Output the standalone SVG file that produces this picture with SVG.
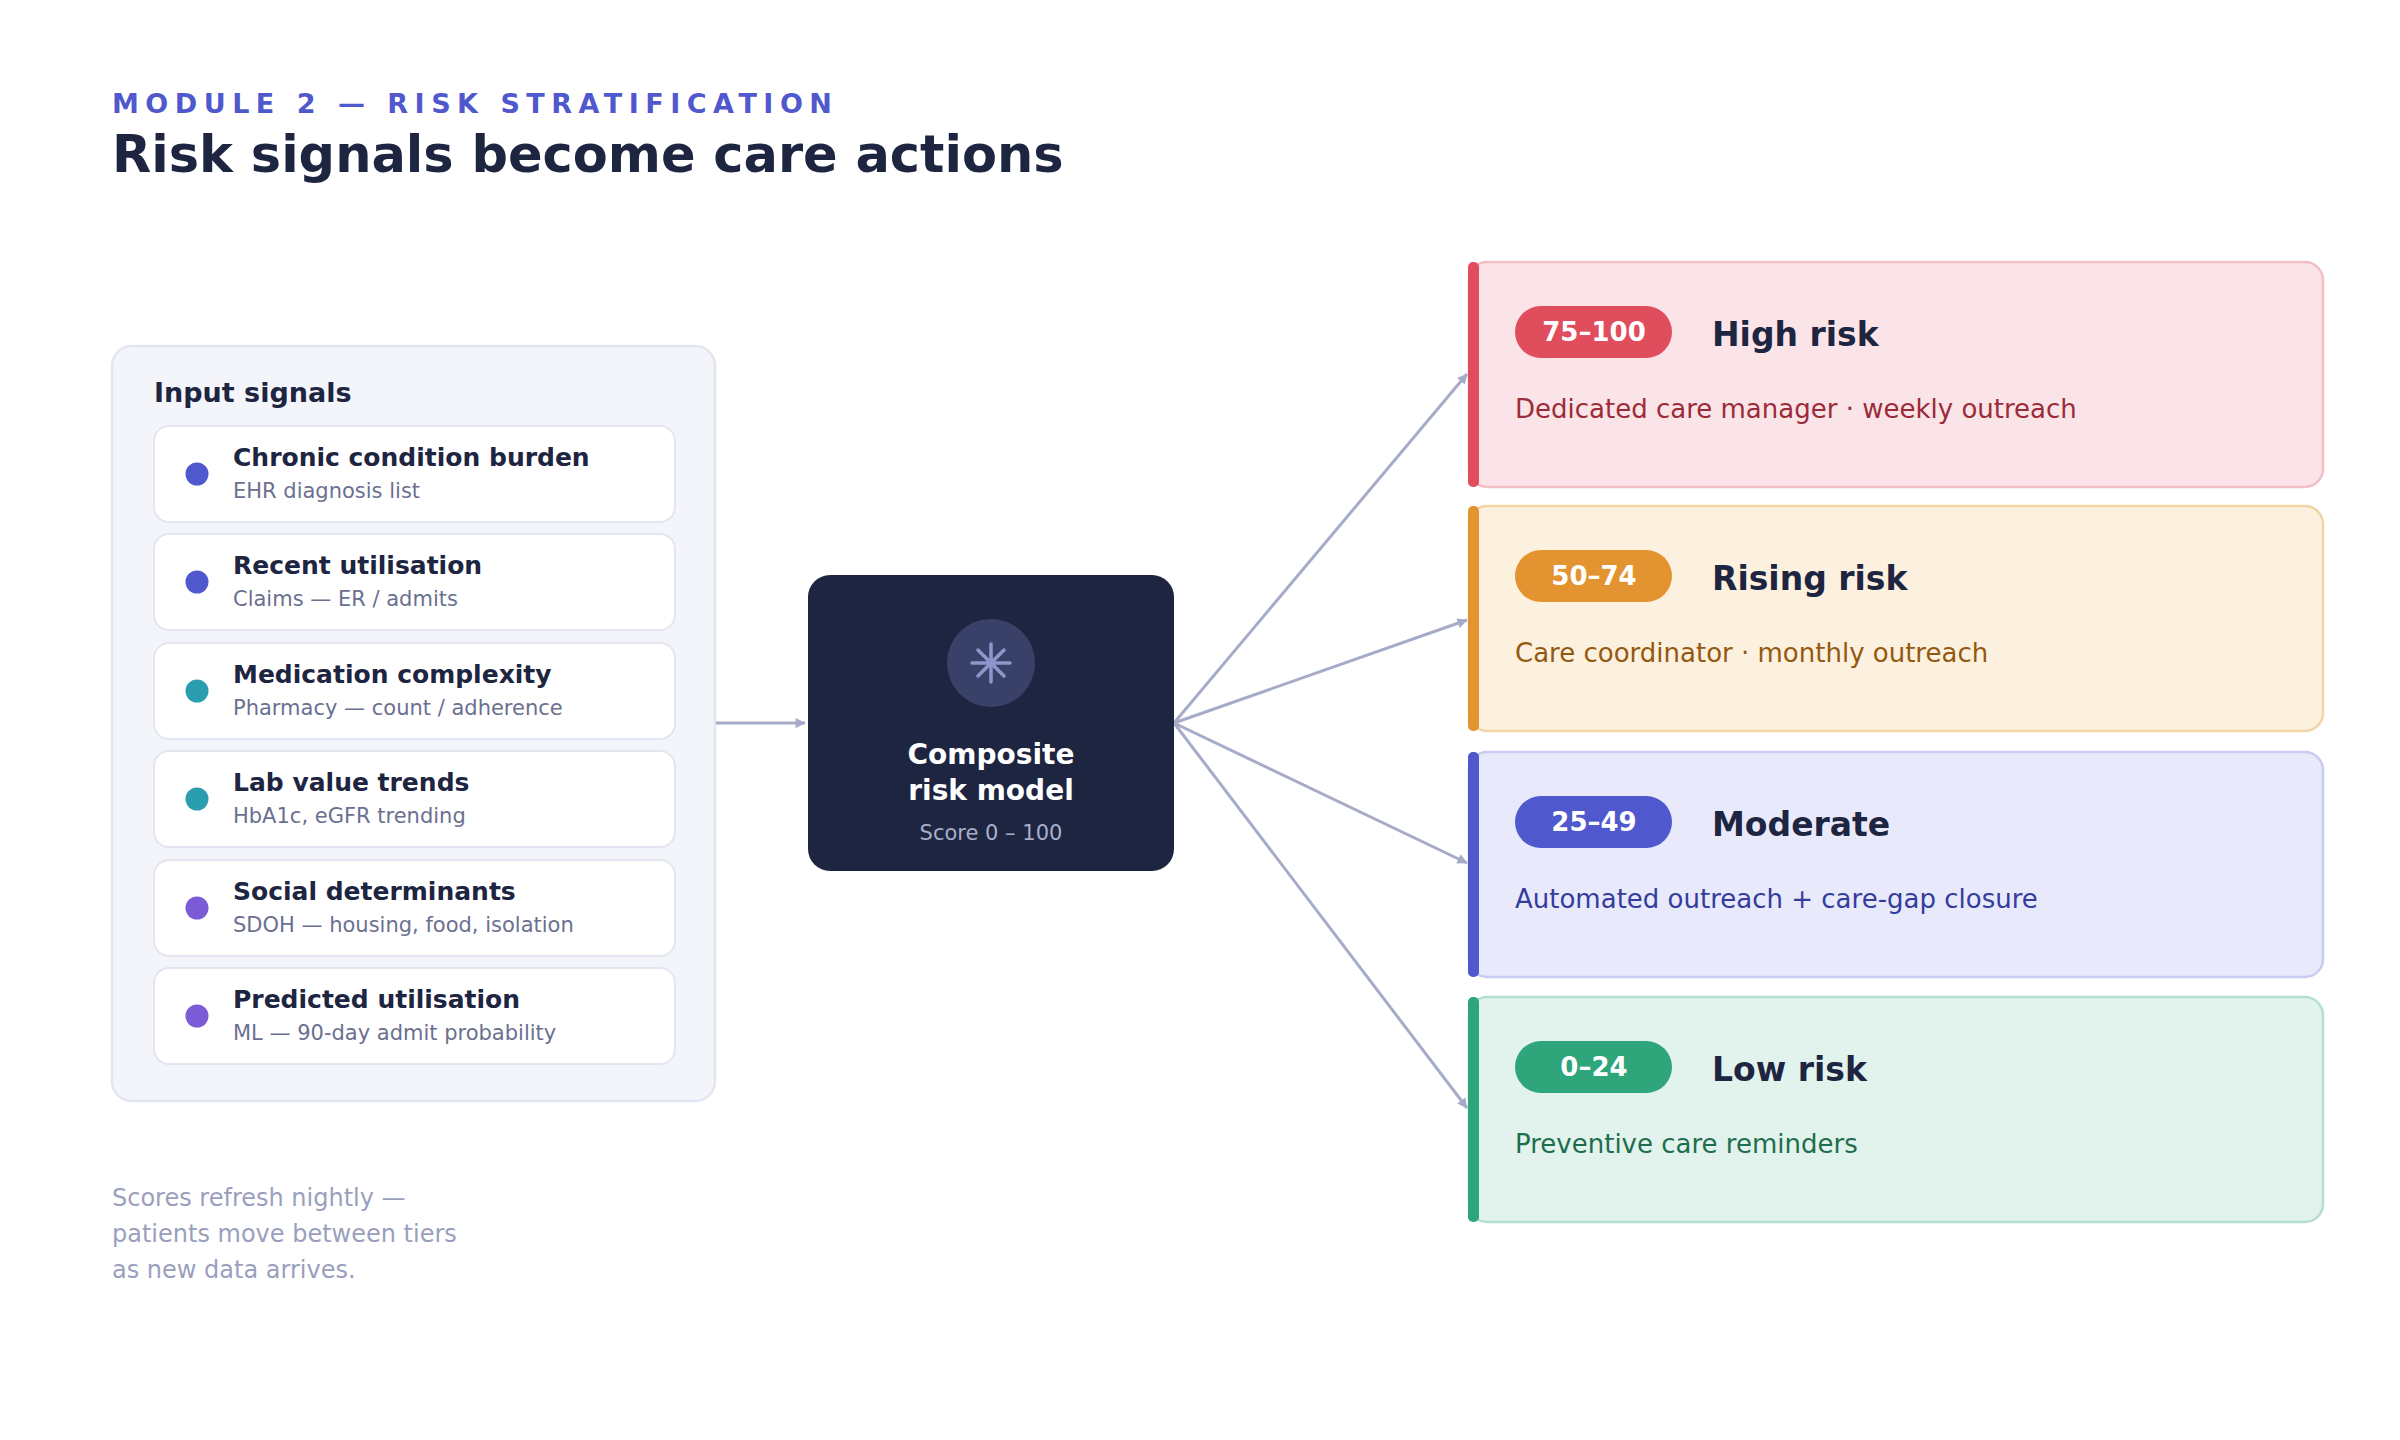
<svg xmlns="http://www.w3.org/2000/svg" width="2400" height="1440" viewBox="0 0 2400 1440">
<defs>
<marker id="ah" viewBox="0 0 10 10" refX="9" refY="5" markerWidth="6" markerHeight="6" orient="auto" markerUnits="userSpaceOnUse" overflow="visible"><path d="M0,0 L10,5 L0,10 z" fill="#A6ABC8" transform="scale(1.7) translate(-4,-2)"/></marker>
<style>
text{font-family:"DejaVu Sans","Noto Sans",sans-serif}
.card{fill:#fff;stroke:#E3E5F0;stroke-width:2}
.ct{font-size:25px;font-weight:bold;fill:#1D2541}
.cs{font-size:21px;fill:#6B7090}
.conn{stroke:#A6ABC8;stroke-width:3;fill:none}
.pill{font-size:26px;font-weight:bold;fill:#fff;text-anchor:middle}
.tt{font-size:33px;font-weight:bold;fill:#1D2541}
.td{font-size:26px}
</style>
</defs>
<rect width="2400" height="1440" fill="#fff"/>
<text x="112" y="113" font-size="27" font-weight="bold" fill="#4F58CC" letter-spacing="6.5">MODULE 2 — RISK STRATIFICATION</text>
<text x="112" y="172" font-size="51" font-weight="bold" fill="#1D2541">Risk signals become care actions</text>

<g id="inputs">
<rect x="112" y="346" width="603" height="755" rx="20" fill="#F4F5FA" stroke="#E3E5F0" stroke-width="2.5"/>
<text x="154" y="402" font-size="27" font-weight="bold" fill="#1D2541">Input signals</text>
</g>
<g id="s1"><rect class="card" x="154" y="426" width="521" height="96" rx="15"/><circle cx="197" cy="474" r="11.5" fill="#4F58CC"/><text class="ct" x="233" y="466">Chronic condition burden</text><text class="cs" x="233" y="498">EHR diagnosis list</text></g>
<g id="s2"><rect class="card" x="154" y="534" width="521" height="96" rx="15"/><circle cx="197" cy="582" r="11.5" fill="#4F58CC"/><text class="ct" x="233" y="574">Recent utilisation</text><text class="cs" x="233" y="606">Claims — ER / admits</text></g>
<g id="s3"><rect class="card" x="154" y="643" width="521" height="96" rx="15"/><circle cx="197" cy="691" r="11.5" fill="#2A9DAE"/><text class="ct" x="233" y="683">Medication complexity</text><text class="cs" x="233" y="715">Pharmacy — count / adherence</text></g>
<g id="s4"><rect class="card" x="154" y="751" width="521" height="96" rx="15"/><circle cx="197" cy="799" r="11.5" fill="#2A9DAE"/><text class="ct" x="233" y="791">Lab value trends</text><text class="cs" x="233" y="823">HbA1c, eGFR trending</text></g>
<g id="s5"><rect class="card" x="154" y="860" width="521" height="96" rx="15"/><circle cx="197" cy="908" r="11.5" fill="#7B5CD6"/><text class="ct" x="233" y="900">Social determinants</text><text class="cs" x="233" y="932">SDOH — housing, food, isolation</text></g>
<g id="s6"><rect class="card" x="154" y="968" width="521" height="96" rx="15"/><circle cx="197" cy="1016" r="11.5" fill="#7B5CD6"/><text class="ct" x="233" y="1008">Predicted utilisation</text><text class="cs" x="233" y="1040">ML — 90-day admit probability</text></g>

<g id="connectors">
<line class="conn" x1="716" y1="723" x2="805" y2="723" marker-end="url(#ah)"/>
<line class="conn" x1="1174" y1="723" x2="1467" y2="374" marker-end="url(#ah)"/>
<line class="conn" x1="1174" y1="723" x2="1467" y2="620" marker-end="url(#ah)"/>
<line class="conn" x1="1174" y1="723" x2="1467" y2="863" marker-end="url(#ah)"/>
<line class="conn" x1="1174" y1="723" x2="1467" y2="1108" marker-end="url(#ah)"/>
</g>

<g id="model">
<rect x="808" y="575" width="366" height="296" rx="22" fill="#1D2541"/>
<circle cx="991" cy="663" r="44" fill="#3A4169"/>
<g stroke="#8F96CC" stroke-width="3.5" stroke-linecap="round">
<line x1="991" y1="644" x2="991" y2="682"/><line x1="972" y1="663" x2="1010" y2="663"/>
<line x1="978" y1="650" x2="1004" y2="676"/><line x1="1004" y1="650" x2="978" y2="676"/>
</g>
<text x="991" y="764" font-size="28" font-weight="bold" fill="#fff" text-anchor="middle">Composite</text>
<text x="991" y="800" font-size="28" font-weight="bold" fill="#fff" text-anchor="middle">risk model</text>
<text x="991" y="840" font-size="21" fill="#A9AECB" text-anchor="middle">Score 0 – 100</text>
</g>

<g id="high">
<rect x="1469" y="262" width="854" height="225" rx="18" fill="#FBE4E7" stroke="#F3BFC6" stroke-width="2.5"/>
<rect x="1468" y="262" width="11" height="225" rx="5" fill="#E04E5E"/>
<rect x="1515" y="306" width="157" height="52" rx="26" fill="#E04E5E"/>
<text class="pill" x="1594" y="341">75–100</text>
<text class="tt" x="1712" y="346">High risk</text>
<text class="td" x="1515" y="418" fill="#9B2B3A">Dedicated care manager · weekly outreach</text>
</g>
<g id="rising">
<rect x="1469" y="506" width="854" height="225" rx="18" fill="#FCF0DF" stroke="#F2D5A6" stroke-width="2.5"/>
<rect x="1468" y="506" width="11" height="225" rx="5" fill="#E39430"/>
<rect x="1515" y="550" width="157" height="52" rx="26" fill="#E39430"/>
<text class="pill" x="1594" y="585">50–74</text>
<text class="tt" x="1712" y="590">Rising risk</text>
<text class="td" x="1515" y="662" fill="#94590F">Care coordinator · monthly outreach</text>
</g>
<g id="moderate">
<rect x="1469" y="752" width="854" height="225" rx="18" fill="#E8E9FA" stroke="#C9CCF2" stroke-width="2.5"/>
<rect x="1468" y="752" width="11" height="225" rx="5" fill="#4F58CC"/>
<rect x="1515" y="796" width="157" height="52" rx="26" fill="#4F58CC"/>
<text class="pill" x="1594" y="831">25–49</text>
<text class="tt" x="1712" y="836">Moderate</text>
<text class="td" x="1515" y="908" fill="#343C9C">Automated outreach + care-gap closure</text>
</g>
<g id="low">
<rect x="1469" y="997" width="854" height="225" rx="18" fill="#E1F3EC" stroke="#B5E0CF" stroke-width="2.5"/>
<rect x="1468" y="997" width="11" height="225" rx="5" fill="#2EA57A"/>
<rect x="1515" y="1041" width="157" height="52" rx="26" fill="#2EA57A"/>
<text class="pill" x="1594" y="1076">0–24</text>
<text class="tt" x="1712" y="1081">Low risk</text>
<text class="td" x="1515" y="1153" fill="#1E6E4E">Preventive care reminders</text>
</g>

<g font-size="24" fill="#9A9FBE">
<text x="112" y="1206">Scores refresh nightly —</text>
<text x="112" y="1242">patients move between tiers</text>
<text x="112" y="1278">as new data arrives.</text>
</g>
</svg>
